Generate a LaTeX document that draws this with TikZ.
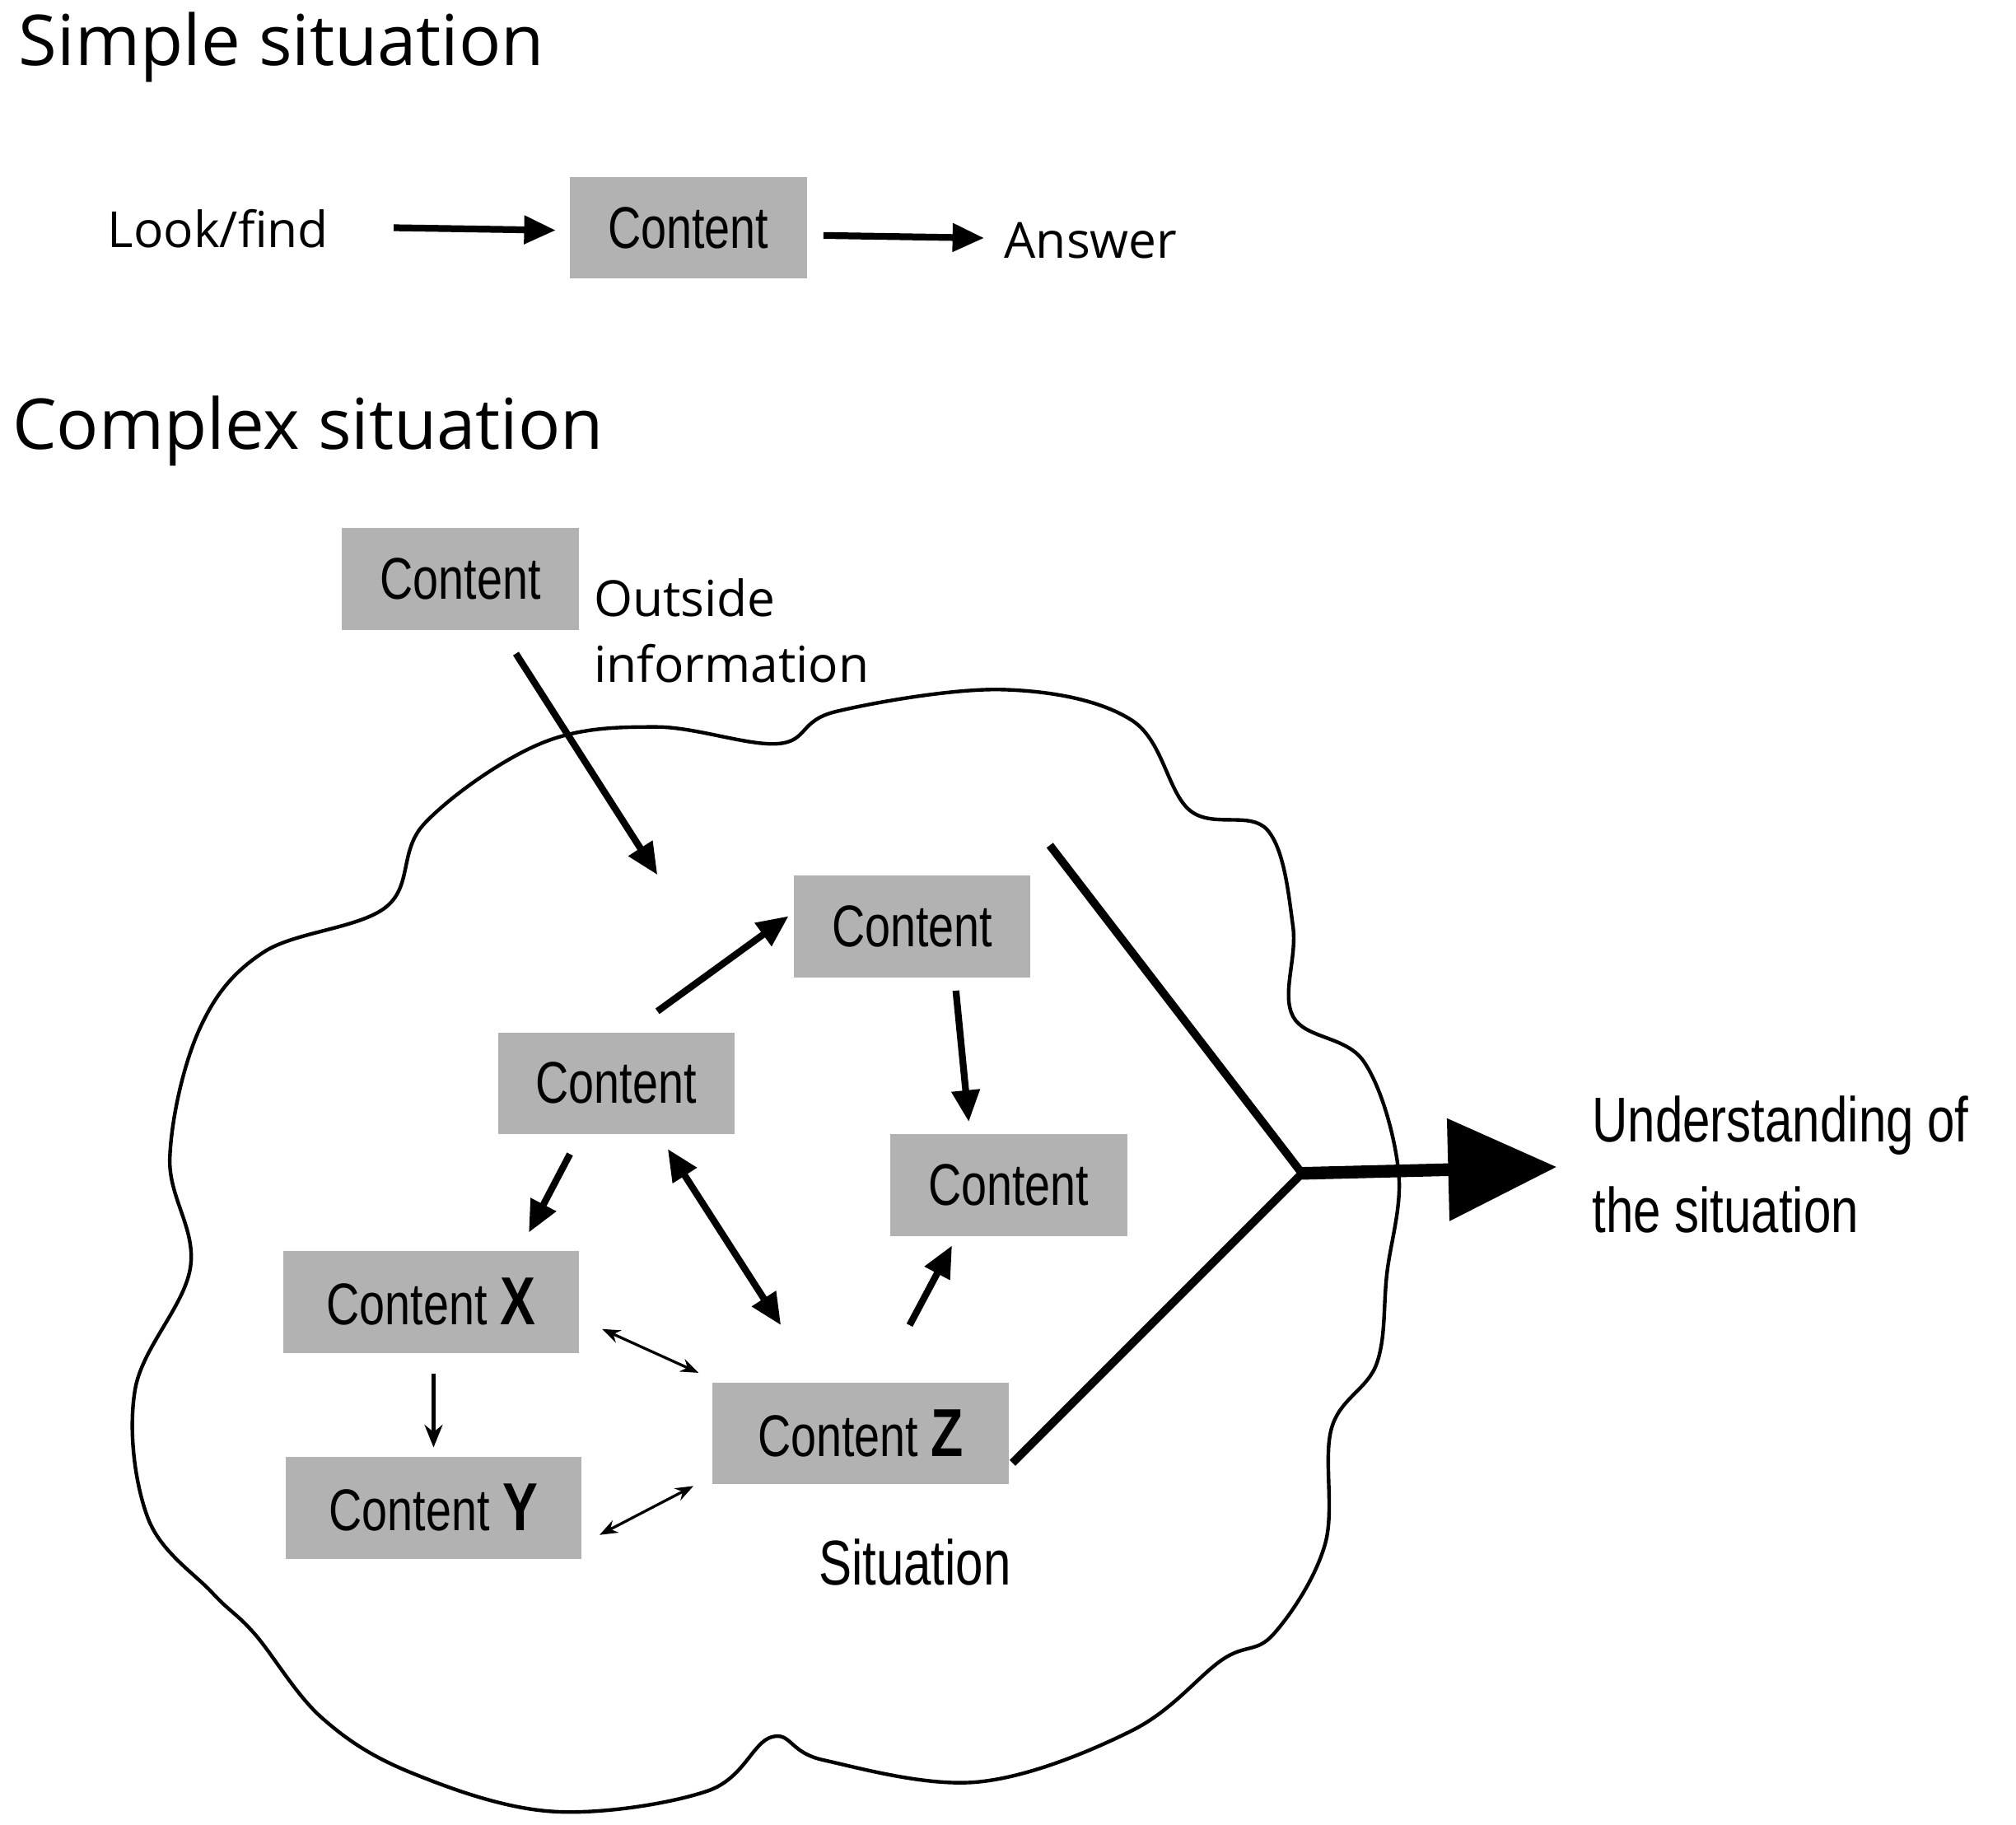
\documentclass[tikz,border=0pt]{standalone}
\usepackage{fontspec}
\setmainfont{Liberation Sans}
\newfontfamily\narrowf{Liberation Sans}[FakeStretch=0.78]
\newfontfamily\myr{Open Sans}
\usetikzlibrary{arrows.meta}
\begin{document}
\begin{tikzpicture}[x=0.01cm,y=-0.01cm,
  box/.style={fill=black!30,minimum width=1.84cm,minimum height=0.79cm,inner sep=0pt,font=\narrowf\fontsize{13}{15}\selectfont},
  wbox/.style={box,minimum width=2.3cm},
  thk/.style={line width=1.5pt,-{Triangle[length=7pt,width=6pt]}},
  thkb/.style={line width=1.5pt,{Triangle[length=7pt,width=6pt]}-{Triangle[length=7pt,width=6pt]}},
  thn/.style={line width=0.6pt,{Stealth[length=4pt,width=3pt]}-{Stealth[length=4pt,width=3pt]}},
  lbl/.style={font=\myr\fontsize{11}{13}\selectfont,inner sep=0pt,anchor=west}]
\useasboundingbox (0,0) rectangle (1567,1418);
% titles
\node[font=\myr\fontsize{15.5}{18}\selectfont,anchor=west,inner sep=0pt] (t1) at (14,37) {Simple situation};
\node[font=\myr\fontsize{15.5}{18}\selectfont,anchor=west,inner sep=0pt] (t2) at (9,335) {Complex situation};
% simple
\node[lbl] (look) at (83,178) {Look/find};
\node[box] (sc) at (535,177) {Content};
\node[lbl] (ans) at (780,187) {Answer};
\coordinate (a1) at (306,177); \coordinate (a2) at (432,179);
\coordinate (a3) at (640,183); \coordinate (a4) at (765,185);
\draw[thk] (a1) -- (a2);
\draw[thk] (a3) -- (a4);
% cloud
\draw[line width=0.8pt] plot[smooth cycle,tension=0.6] coordinates {
 (300,705) (330,640) (420,578) (510,565) (605,578) (650,553) (780,536) (880,560) (925,630)
 (985,645) (1005,720) (1005,790) (1060,825) (1087,910) (1078,990) (1070,1060) (1035,1110)
 (1030,1200) (990,1270) (950,1290) (880,1345) (760,1385) (640,1368) (600,1350)
 (550,1392) (430,1408) (320,1378) (250,1335) (198,1270) (165,1238) (115,1180) (105,1080)
 (148,985) (132,900) (155,800) (205,740)};
% boxes
\node[box] (c1) at (358,450) {Content};
\node[lbl,font=\myr\fontsize{11}{14.5}\selectfont,align=left,anchor=north west] (out) at (461,449) {Outside\\information};
\node[box] (c2) at (709,720) {Content};
\node[box] (c3) at (479,842) {Content};
\node[box] (c4) at (784,921) {Content};
\node[wbox] (cx) at (335,1012) {Content \textbf{\fontsize{15}{15}\selectfont X}};
\node[wbox] (cy) at (337,1172) {Content \textbf{\fontsize{15}{15}\selectfont Y}};
\node[wbox] (cz) at (669,1114) {Content \textbf{\fontsize{15}{15}\selectfont Z}};
\node[font=\narrowf\fontsize{14}{16}\selectfont] (sit) at (711,1214) {Situation};
\node[font=\narrowf\fontsize{14}{20}\selectfont,align=left,anchor=west,inner sep=0pt] (und) at (1237,905) {Understanding of\\the situation};
% arrows
\draw[thk] (401,508) -- (511,680);
\draw[thk] (511,786) -- (613,712);
\draw[thk] (743,770) -- (753,872);
\draw[thk] (443,897) -- (411,958);
\draw[thkb] (519,893) -- (607,1030);
\draw[thk] (707,1030) -- (740,968);
\draw[thn] (468,1033) -- (543,1067);
\draw[line width=0.8pt,-{Stealth[length=5pt,width=4pt]}] (337,1068) -- (337,1125);
\draw[thn] (466,1193) -- (539,1155);
\coordinate (v) at (1012,912);
\draw[line width=1.8pt,line join=miter] (816,657) -- (v) -- (787,1137);
\draw[line width=2.8pt,-{Triangle[length=24pt,width=22pt]}] (v) -- (1210,907);
\end{tikzpicture}
\end{document}
